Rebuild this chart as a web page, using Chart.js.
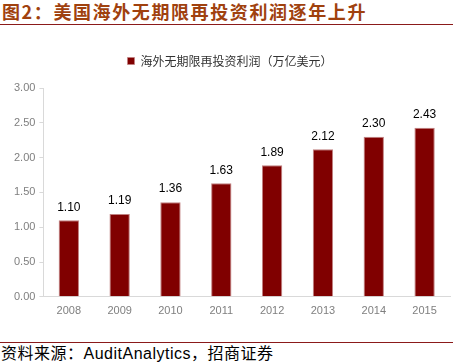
<!DOCTYPE html>
<html>
<head>
<meta charset="utf-8">
<script src="https://cdn.jsdelivr.net/npm/chart.js@4.4.0/dist/chart.umd.min.js"></script>
<style>
  html, body { margin: 0; padding: 0; background: #fff; }
  body { width: 453px; height: 362px; position: relative; overflow: hidden; font-family: "Noto Sans CJK SC", sans-serif; }
  #title { position: absolute; left: 2px; top: 0px; font-size: 18px; font-weight: bold; color: #a0410e; line-height: 22px; letter-spacing: 1.6px; }
  #topLine { position: absolute; left: 0; top: 24px; width: 453px; height: 0; border-top: 1.5px solid #8b1a1a; }
  #chartWrap { position: absolute; left: 0; top: 35px; width: 453px; height: 291px; }
  #botLine { position: absolute; left: 0; top: 342px; width: 453px; height: 0; border-top: 1px solid #8b1a1a; }
  #source { position: absolute; left: 1px; top: 343px; font-size: 16px; color: #000; line-height: 19px; letter-spacing: 0.5px; }
</style>
</head>
<body>
<div id="title">图2：美国海外无期限再投资利润逐年上升</div>
<div id="topLine"></div>
<div id="chartWrap"><canvas id="c"></canvas></div>
<div id="botLine"></div>
<div id="source">资料来源：<span style="font-family:'Liberation Sans',Arial,sans-serif">AuditAnalytics</span>，招商证券</div>
<script>
'use strict';

// data
const years  = ['2008', '2009', '2010', '2011', '2012', '2013', '2014', '2015'];
const profit = [1.10, 1.19, 1.36, 1.63, 1.89, 2.12, 2.30, 2.43];
const seriesName = '海外无期限再投资利润（万亿美元）';
const yTicks = [0, 0.5, 1, 1.5, 2, 2.5, 3];

const valueLabels = {
  id: 'valueLabels',
  afterDatasetsDraw(chart) {
    const ctx = chart.ctx;
    const meta = chart.getDatasetMeta(0);
    ctx.save();
    ctx.font = '12px "Liberation Sans", Arial, sans-serif';
    ctx.fillStyle = '#000';
    ctx.textAlign = 'center';
    ctx.textBaseline = 'bottom';
    meta.data.forEach((bar, i) => {
      ctx.fillText(profit[i].toFixed(2), bar.x, bar.y - 7);
    });
    ctx.restore();
  }
};

// extra room below the legend
const legendGap = {
  id: 'legendGap',
  beforeInit(chart) {
    const origFit = chart.legend.fit;
    chart.legend.fit = function () {
      origFit.bind(chart.legend)();
      this.height += 11;
    };
  }
};

new Chart(document.getElementById('c'), {
  type: 'bar',
  data: {
    labels: years,
    datasets: [{
      label: seriesName,
      data: profit,
      backgroundColor: '#800000',
      borderColor: '#c08080',
      borderWidth: { top: 1, left: 1, right: 1, bottom: 0 },
      barPercentage: 0.4,
      categoryPercentage: 1.0
    }]
  },
  options: {
    responsive: true, maintainAspectRatio: false,
    animation: false,
    layout: { padding: { left: 10, right: 3, top: 0, bottom: 0 } },
    plugins: {
      legend: {
        position: 'top',
        labels: {
          color: '#333',
          boxWidth: 7, boxHeight: 7,
          padding: 20,
          font: { size: 12, family: '"Noto Sans CJK SC", sans-serif' }
        }
      },
      tooltip: { enabled: false }
    },
    scales: {
      x: {
        grid: { display: false, drawTicks: false },
        border: { color: '#d9d9d9', width: 1 },
        ticks: { color: '#7f7f7f', padding: 8, font: { size: 11, family: '"Liberation Sans", Arial, sans-serif' } }
      },
      y: {
        min: 0, max: 3,
        afterBuildTicks(axis) { axis.ticks = yTicks.map(v => ({ value: v })); },
        grid: { drawOnChartArea: false, color: '#d9d9d9', tickLength: 4 },
        border: { color: '#d9d9d9', width: 1 },
        ticks: {
          color: '#7f7f7f', padding: 4,
          font: { size: 11, family: '"Liberation Sans", Arial, sans-serif' },
          callback: v => Number(v).toFixed(2)
        }
      }
    }
  },
  plugins: [valueLabels, legendGap]
});
</script>
</body>
</html>
